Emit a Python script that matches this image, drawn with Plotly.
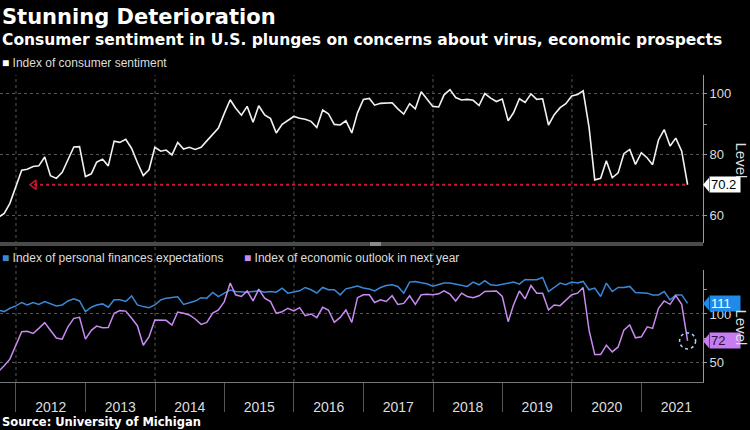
import pandas as pd
import plotly.graph_objects as go

# ---------------- data (monthly, Sep 2011 .. Aug 2021) ----------------
FIRST_MONTH = "2011-09"
sentiment = [
    59.5, 60.8, 64.1, 69.9,
    75.0, 75.3, 76.2, 76.4, 79.3, 73.2, 72.3, 74.3, 78.3, 82.6, 82.7, 72.9,
    73.8, 77.6, 78.6, 76.4, 84.5, 84.1, 85.1, 82.1, 77.5, 73.2, 75.1, 82.5,
    81.2, 81.6, 80.0, 84.1, 81.9, 82.5, 81.8, 82.5, 84.6, 86.9, 88.8, 93.6,
    98.1, 95.4, 93.0, 95.9, 90.7, 96.1, 93.1, 91.9, 87.2, 90.0, 91.3, 92.6,
    92.0, 91.7, 91.0, 89.0, 94.7, 93.5, 90.0, 89.8, 91.2, 87.2, 93.8, 98.2,
    98.5, 96.3, 96.9, 97.0, 97.1, 95.1, 93.4, 96.8, 95.1, 100.7, 98.5, 95.9,
    95.7, 99.7, 101.4, 98.8, 98.0, 98.2, 97.9, 96.2, 100.1, 98.6, 97.5, 98.3,
    91.2, 93.8, 98.4, 97.2, 100.0, 98.2, 98.4, 89.8, 93.2, 95.5, 96.8, 99.3,
    99.8, 101.0, 89.1, 71.8, 72.3, 78.1, 72.5, 74.1, 80.4, 81.8, 76.9, 80.7,
    79.0, 76.8, 84.9, 88.3, 82.9, 85.5, 81.2, 70.2,
]
personal_finances = [
    104, 102.5, 106, 108.4,
    112, 109.5, 112, 110, 113, 110.5, 108.4, 109.4, 113.6, 115.7, 113.6, 102.4,
    107, 109.4, 110.5, 107, 114.7, 114.7, 113, 118.9, 109.4, 107.7, 106.6, 109.4,
    114.7, 116.4, 117.5, 118, 110, 111.5, 113.5, 117, 116.5, 122.5, 118, 121.7,
    125, 123.4, 122.7, 122.7, 123.4, 124.1, 122.7, 123.4, 122.7, 126.9, 121.7, 122.7,
    124.1, 127.6, 125.2, 121.7, 127.6, 125.2, 125.2, 119.9, 126.2, 127.6, 129, 127,
    126, 124, 127.6, 129.7, 130.4, 128.7, 121.7, 133.2, 133.9, 132.5, 131.5, 129,
    131, 132.2, 132.2, 131.1, 129.5, 128.7, 133.2, 130.4, 134.6, 130.4, 129.7, 131.1,
    132, 133.2, 131.1, 136, 135.7, 135.7, 138, 123.4, 127.6, 132.2, 130.4, 133.2,
    132.2, 133.9, 125.2, 127, 118.2, 132.2, 123.4, 127.6, 127.6, 128.7, 122.4, 122.4,
    121.7, 119.9, 119.9, 123.4, 114.7, 119.9, 119.9, 111,
]
economic_outlook = [
    40, 46, 53, 67,
    81.5, 82, 79.7, 85, 91, 83, 75, 73.8, 86.7, 95.5, 96.5, 73.8,
    83, 87.4, 85.7, 86, 100.7, 103.5, 103, 95.5, 87.8, 67.5, 76.2, 93.7,
    93.4, 93.4, 88.5, 102, 100.7, 99, 94.8, 89.2, 91.3, 101, 104.2, 112.9,
    132.2, 120, 118.2, 124, 113.6, 125.9, 116.4, 112.9, 100.7, 102.4, 106, 103.1,
    106.6, 98.3, 100, 96.2, 107, 104.2, 91.3, 96.5, 104.2, 91.3, 117, 120,
    120, 112, 114.7, 113, 119, 110, 111, 119, 110, 120, 120.6, 120,
    121, 124, 120.6, 113.6, 121.7, 118.2, 117, 119, 123.4, 124, 124, 118.2,
    92, 109.4, 124, 115.7, 129.7, 121.7, 121.7, 104.2, 109.4, 108.7, 114.7, 120,
    121.7, 127.6, 83.2, 57.7, 57.7, 67.5, 60.5, 65.7, 83.2, 88.5, 75.2, 76.2,
    86.7, 85, 106, 113.6, 110.1, 119.2, 110.1, 72,
]
GRID_YEARS = ["2012-01-01", "2014-01-01", "2016-01-01", "2018-01-01", "2020-01-01"]
LOW_LINE_START = "2012-04-05"
X_RANGE = ["2011-10-09", "2021-11-20"]

TITLE = "Stunning Deterioration"
SUBTITLE = "Consumer sentiment in U.S. plunges on concerns about virus, economic prospects"
LEG_TOP = "Index of consumer sentiment"
LEG_BLUE = "Index of personal finances expectations"
LEG_PURPLE = "Index of economic outlook in next year"
SOURCE = "Source: University of Michigan"

# month-end dates
n = len(sentiment)
dates = pd.date_range(pd.Period(FIRST_MONTH, "M").to_timestamp() + pd.offsets.MonthBegin(1),
                      periods=n, freq="MS") - pd.Timedelta(days=1)

WHITE = "#f2f2f2"
BLUE = "#3a88d8"
PURPLE = "#c98af2"
RED = "#d3162f"
GRID = "#555555"
AXIS = "#9a9a9a"
TXT = "#dddddd"
FONT = "Liberation Sans, Arial, sans-serif"
BOLD = "DejaVu Sans, Verdana, sans-serif"

# pixel layout
W, H = 750, 430
ML, MR, MT, MB = 0, 47, 75, 48
PH = H - MT - MB
PW = W - ML - MR


def py(ypix):
    return (H - MB - ypix) / PH


TOP_DOM = [py(243), 1.0]
LOW_DOM = [0.0, py(270)]
TOP_RANGE = [51.1, 106.2]
LOW_RANGE = [29.2, 145.8]
top_ppu = (243 - 75) / (TOP_RANGE[1] - TOP_RANGE[0])
low_ppu = (382 - 270) / (LOW_RANGE[1] - LOW_RANGE[0])

fig = go.Figure()

# lower panel
fig.add_trace(go.Scatter(x=dates, y=personal_finances, mode="lines",
                         line=dict(color=BLUE, width=1.5), xaxis="x", yaxis="y",
                         hoverinfo="skip"))
fig.add_trace(go.Scatter(x=dates, y=economic_outlook, mode="lines",
                         line=dict(color=PURPLE, width=1.5), xaxis="x", yaxis="y",
                         hoverinfo="skip"))
# upper panel
last = sentiment[-1]
fig.add_trace(go.Scatter(x=[LOW_LINE_START, dates[-1]], y=[last, last], mode="lines",
                         line=dict(color=RED, width=2, dash="dot"), xaxis="x2", yaxis="y2",
                         hoverinfo="skip"))
fig.add_trace(go.Scatter(x=[LOW_LINE_START], y=[last], mode="markers",
                         marker=dict(symbol="triangle-left-open", size=8,
                                     color=RED, line=dict(color=RED, width=1.5)),
                         xaxis="x2", yaxis="y2", hoverinfo="skip"))
fig.add_trace(go.Scatter(x=dates, y=sentiment, mode="lines",
                         line=dict(color=WHITE, width=1.6), xaxis="x2", yaxis="y2",
                         hoverinfo="skip"))

shapes = []
for g in GRID_YEARS:
    shapes.append(dict(type="line", xref="x", yref="paper", x0=g, x1=g, y0=0, y1=1,
                       line=dict(color=GRID, width=1, dash="dot"), layer="below"))
# panel divider
shapes.append(dict(type="rect", xref="paper", yref="paper", x0=0, x1=1,
                   y0=py(246), y1=py(242), fillcolor="#4a4a4a", line=dict(width=0)))
shapes.append(dict(type="rect", xref="paper", yref="paper", x0=370 / PW, x1=381 / PW,
                   y0=py(246), y1=py(242), fillcolor="#8a8a8a", line=dict(width=0)))
# dashed circle on last outlook value
shapes.append(dict(type="circle", xref="x", yref="y", xsizemode="pixel", ysizemode="pixel",
                   xanchor=dates[-1], yanchor=economic_outlook[-1],
                   x0=-8, x1=8, y0=-8, y1=8,
                   line=dict(color="#a9d6ff", width=1.5, dash="dot")))

annotations = []


def tag(value, yref, ppu, bg, fg, label):
    half = 7 / ppu
    tip = 1.0
    base = 1.0 + 6 / PW
    shapes.append(dict(type="path", xref="paper", yref=yref,
                       path=f"M {tip},{value} L {base},{value + half} L {base},{value - half} Z",
                       fillcolor=bg, line=dict(width=0), layer="above"))
    annotations.append(dict(xref="paper", yref=yref, x=base, y=value, xanchor="left",
                            yanchor="middle", text=label, showarrow=False,
                            bgcolor=bg, borderpad=1, width=28, height=13, align="left",
                            font=dict(family=FONT, size=13, color=fg)))


tag(last, "y2", top_ppu, "#ffffff", "#000000", f"{last:.1f}")
tag(personal_finances[-1], "y", low_ppu, "#1f8ae8", "#ffffff", f"{personal_finances[-1]:.0f}")
tag(economic_outlook[-1], "y", low_ppu, "#c77df2", "#2a1040", f"{economic_outlook[-1]:.0f}")

annotations += [
    dict(xref="paper", yref="paper", x=0, y=py(17), xanchor="left", yanchor="middle",
         text=f"<b>{TITLE}</b>", showarrow=False,
         font=dict(family=BOLD, size=21, color="#ffffff")),
    dict(xref="paper", yref="paper", x=0, y=py(40), xanchor="left", yanchor="middle",
         text=f"<b>{SUBTITLE}</b>", showarrow=False,
         font=dict(family=BOLD, size=15.5, color="#ffffff")),
    dict(xref="paper", yref="paper", x=0, y=py(63), xanchor="left", yanchor="middle",
         text=f"<span style='color:#ffffff'>■</span> {LEG_TOP}", showarrow=False,
         font=dict(family=FONT, size=12, color=TXT)),
    dict(xref="paper", yref="paper", x=0, y=py(258), xanchor="left", yanchor="middle",
         text=f"<span style='color:{BLUE}'>■</span> {LEG_BLUE}", showarrow=False,
         font=dict(family=FONT, size=12, color=TXT)),
    dict(xref="paper", yref="paper", x=242 / PW, y=py(258), xanchor="left", yanchor="middle",
         text=f"<span style='color:{PURPLE}'>■</span> {LEG_PURPLE}", showarrow=False,
         font=dict(family=FONT, size=12, color=TXT)),
    dict(xref="paper", yref="paper", x=0, y=py(422), xanchor="left", yanchor="middle",
         text=f"<b>{SOURCE}</b>", showarrow=False,
         font=dict(family=BOLD, size=11.5, color="#ffffff")),
    dict(xref="paper", yref="paper", x=752 / PW, y=py(160), xanchor="right",
         yanchor="middle", text="Level", textangle=90, showarrow=False,
         font=dict(family=FONT, size=15, color=TXT)),
    dict(xref="paper", yref="paper", x=752 / PW, y=py(327), xanchor="right",
         yanchor="middle", text="Level", textangle=90, showarrow=False,
         font=dict(family=FONT, size=15, color=TXT)),
]

fig.update_layout(
    width=W, height=H, margin=dict(l=ML, r=MR, t=MT, b=MB),
    paper_bgcolor="#000000", plot_bgcolor="#000000", showlegend=False,
    font=dict(family=FONT, color=TXT, size=13),
    xaxis=dict(domain=[0, 1], anchor="y", range=X_RANGE, type="date",
               ticklabelmode="period", dtick="M12", tick0="2012-01-01", tickformat="%Y",
               ticks="outside", ticklen=29, tickcolor="#555555", tickwidth=1,
               ticklabelstandoff=-17,
               showline=True, linecolor="#777777", linewidth=1, showgrid=False,
               zeroline=False, tickfont=dict(family=FONT, size=14, color=TXT)),
    xaxis2=dict(domain=[0, 1], anchor="y2", matches="x", type="date",
                showticklabels=False, ticks="", showgrid=False, showline=False,
                zeroline=False),
    yaxis=dict(domain=LOW_DOM, anchor="x", side="right", range=LOW_RANGE,
               dtick=50, tick0=0, showgrid=True, gridcolor=GRID, griddash="dot",
               ticks="outside", ticklen=3, tickcolor=AXIS, showline=True, linecolor=AXIS,
               zeroline=False, tickfont=dict(family=FONT, size=13, color=TXT),
               minor=dict(dtick=25, tick0=0, ticks="outside", ticklen=3, tickcolor=AXIS,
                          showgrid=False)),
    yaxis2=dict(domain=TOP_DOM, anchor="x2", side="right", range=TOP_RANGE,
                dtick=20, tick0=0, showgrid=True, gridcolor=GRID, griddash="dot",
                ticks="outside", ticklen=3, tickcolor=AXIS, showline=True, linecolor=AXIS,
                zeroline=False, tickfont=dict(family=FONT, size=13, color=TXT),
                minor=dict(dtick=10, tick0=0, ticks="outside", ticklen=3, tickcolor=AXIS,
                           showgrid=False)),
    shapes=shapes,
    annotations=annotations,
)

fig.write_html("out.html")
